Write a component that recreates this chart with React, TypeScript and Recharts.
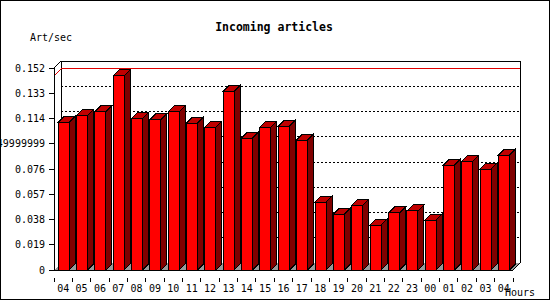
import {
  Bar,
  BarChart,
  CartesianGrid,
  ReferenceArea,
  ReferenceLine,
  XAxis,
  YAxis,
} from "recharts";

const hours = ["04", "05", "06", "07", "08", "09", "10", "11", "12", "13", "14", "15", "16", "17", "18", "19", "20", "21", "22", "23", "00", "01", "02", "03", "04"];
const artPerSec = [0.111, 0.116, 0.119, 0.146, 0.114, 0.113, 0.119, 0.1105, 0.1075, 0.1346, 0.0993, 0.1075, 0.1083, 0.0978, 0.0511, 0.0421, 0.0489, 0.0338, 0.0429, 0.0444, 0.0376, 0.079, 0.082, 0.076, 0.0865];
const yTicks = [0, 0.019, 0.038, 0.057, 0.076, 0.0949999999, 0.114, 0.133, 0.152];

const FONT = "'DejaVu Sans Mono', monospace";
const DEPTH = 7;
const BAR_DEPTH = 6;

const data = hours.map((h, i) => ({ hour: h, value: artPerSec[i] }));
const maxValue = Math.max(...artPerSec);

const Bar3D = (props: any) => {
  const { x, y, width, height } = props;
  const d = BAR_DEPTH;
  return (
    <g>
      <polygon
        points={`${x},${y} ${x + d},${y - d} ${x + width + d},${y - d} ${x + width},${y}`}
        fill="#c00000"
        stroke="#000"
      />
      <polygon
        points={`${x + width},${y} ${x + width + d},${y - d} ${x + width + d},${y + height - d} ${x + width},${y + height}`}
        fill="#800000"
        stroke="#000"
      />
      <rect x={x} y={y} width={width} height={height} fill="#ff0000" stroke="#000" />
    </g>
  );
};

// back panel, floor and the corner diagonals
const Panel = (props: any) => {
  const { x, y, width: w, height: h } = props;
  const d = DEPTH;
  return (
    <g>
      <polygon
        points={`${x},${y + h} ${x + w},${y + h} ${x + w + d},${y + h - d} ${x + d},${y + h - d}`}
        fill="#999"
      />
      <polyline
        points={`${x + d},${y + h - d} ${x + d},${y - d} ${x + w + d},${y - d} ${x + w + d},${y + h - d}`}
        fill="none"
        stroke="#000"
      />
      <line x1={x} y1={y} x2={x + d} y2={y - d} stroke="#000" />
      <line x1={x + w} y1={y + h} x2={x + w + d} y2={y + h - d} stroke="#000" />
    </g>
  );
};

const MaxLine = (props: any) => {
  const { x1, y1, x2 } = props;
  const d = DEPTH;
  return (
    <g>
      <line x1={x1} y1={y1} x2={x1 + d} y2={y1 - d} stroke="#e00000" />
      <line x1={x1 + d} y1={y1 - d} x2={x2 + d} y2={y1 - d} stroke="#e00000" />
    </g>
  );
};

const GridLine = (p: any) => {
  const top = p.y ?? 68;
  const bottom = top + (p.height ?? 202);
  if (Math.abs(p.y1 - top) < 1 || Math.abs(p.y1 - bottom) < 1) return <g key={p.key} />;
  return (
    <line
      key={p.key}
      x1={p.x1 + DEPTH}
      y1={p.y1 - DEPTH}
      x2={p.x2 + DEPTH}
      y2={p.y2 - DEPTH}
      stroke="#000"
      strokeDasharray="2 2"
    />
  );
};

const HourTick = (props: any) => {
  const { x, y, payload, index } = props;
  const half = (550 - 54 - 37) / hours.length / 2;
  return (
    <g>
      {index === 0 && <line x1={x - half} y1={y} x2={x - half} y2={y + 4} stroke="#000" />}
      <line x1={x + half} y1={y} x2={x + half} y2={y + 4} stroke="#000" />
      <text x={x} y={y + 14} textAnchor="middle" fontFamily={FONT} fontSize={10} fill="#000">
        {payload.value}
      </text>
    </g>
  );
};

export default function App() {
  return (
    <div
      style={{
        position: "absolute",
        left: 0,
        top: 0,
        width: 550,
        height: 300,
        background: "#fff",
        border: "1px solid #000",
        boxSizing: "border-box",
        shapeRendering: "crispEdges",
      }}
    >
      <div style={{ position: "absolute", left: -1, top: -1 }}>
        <BarChart
          width={550}
          height={300}
          data={data}
          margin={{ top: 68, right: 37, bottom: 0, left: 0 }}
          barSize={11}
        >
          <ReferenceArea y1={0} y2={0.152} shape={<Panel />} zIndex={-60} ifOverflow="visible" />
          <CartesianGrid vertical={false} horizontal={GridLine} />
          <ReferenceLine y={maxValue} shape={<MaxLine />} zIndex={-55} />
          <XAxis
            dataKey="hour"
            height={30}
            axisLine={{ stroke: "#000" }}
            tickLine={false}
            tick={<HourTick />}
            interval={0}
          />
          <YAxis
            width={54}
            domain={[0, 0.152]}
            ticks={yTicks}
            interval={0}
            axisLine={{ stroke: "#000" }}
            tickLine={{ stroke: "#000" }}
            tickSize={5}
            tickMargin={4}
            tick={{ fontFamily: FONT, fontSize: 10, fill: "#000" }}
          />
          <Bar dataKey="value" shape={<Bar3D />} isAnimationActive={false} />
        </BarChart>
      </div>
      <svg
        width={550}
        height={300}
        style={{ position: "absolute", left: -1, top: -1, pointerEvents: "none" }}
      >
        <text x={274} y={31} textAnchor="middle" fontFamily={FONT} fontSize={11.5} fontWeight="bold" fill="#000">
          Incoming articles
        </text>
        <text x={30} y={41} fontFamily={FONT} fontSize={10} fill="#000">
          Art/sec
        </text>
        <text x={505} y={296} fontFamily={FONT} fontSize={10} fill="#000">
          Hours
        </text>
      </svg>
    </div>
  );
}
